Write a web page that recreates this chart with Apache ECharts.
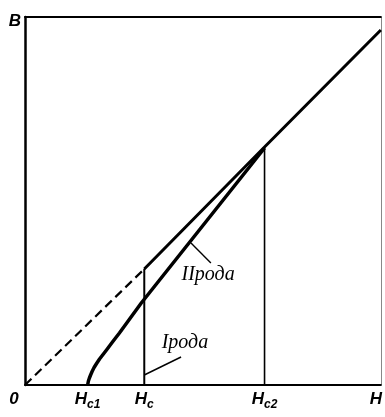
<!DOCTYPE html>
<html>
<head>
<meta charset="utf-8">
<script src="https://cdn.jsdelivr.net/npm/echarts@6/dist/echarts.min.js"></script>
<style>
  html, body { margin: 0; padding: 0; background: #fff; }
  #chart { width: 385px; height: 417px; }
</style>
</head>
<body>
<div id="chart"></div>
<script>
// B(H) magnetisation curves of type I and type II superconductors.
// Axis ranges (arbitrary units).
const hMax = 358;
const bMax = 368;

// Characteristic fields on the H axis and their labels.
const hTickValues = [0, 63, 120, 241, 353];
const hTickLabels = ['{z|0}', '{h|H}{s|c1}', '{h|H}{s|c}', '{h|H}{s|c2}', '{h|H}'];

// Normal-state line B = H (dashed below Hc, solid above).
const normalDashed = [[0, 0], [120, 116]];
const normalSolid = [[120, 116], [241, 238], [358, 355]];

// Type II curve: starts at Hc1, joins the normal line at Hc2.
const type2Curve = [
  [63, 0], [63.8, 4], [64.8, 7], [66, 10], [67.5, 13.5], [69.5, 17.5], [72, 21.5], [75, 26],
  [78.5, 30.5], [82, 35], [88, 43], [95, 52], [117, 82], [241, 237]
];

// Type I jump at Hc, and the Hc2 marker.
const hcLine = [[120, 0], [120, 116]];
const hc2Line = [[241, 0], [241, 237]];

// Leader lines for the curve captions.
const leader2 = [[167, 142], [187, 122]];
const leader1 = [[120, 10], [157, 28]];

// Caption anchors [H, B, text].
const captions = [[157, 110, 'IIрода'], [137, 42, 'Iрода']];

const chart = echarts.init(document.getElementById('chart'), null, { renderer: 'canvas' });

const blackLine = (data, width, type) => ({
  type: 'line',
  data: data,
  symbol: 'none',
  silent: true,
  lineStyle: { color: '#000', width: width, type: type || 'solid', cap: 'butt', join: 'round' },
  z: 3
});

const frameAxis = (extra, color, width) => Object.assign({
  type: 'value',
  splitLine: { show: false },
  axisTick: { show: false },
  axisLabel: { show: false },
  axisLine: { show: true, onZero: false, lineStyle: { color: color, width: width } }
}, extra);

const labelFont = { fontFamily: 'Liberation Sans', fontStyle: 'italic', fontWeight: 'bold', color: '#000' };

chart.setOption({
  animation: false,
  backgroundColor: '#fff',
  grid: { left: 25, right: 2, top: 17, bottom: 32 },
  xAxis: [
    {
      type: 'value', min: 0, max: hMax, position: 'bottom',
      splitLine: { show: false },
      axisTick: { show: false },
      axisLine: { show: true, onZero: false, lineStyle: { color: '#000', width: 2 } },
      axisLabel: {
        customValues: hTickValues,
        margin: 6,
        formatter: (v) => hTickLabels[hTickValues.indexOf(v)] || '',
        rich: {
          h: Object.assign({ fontSize: 17, fontWeight: 'normal', verticalAlign: 'top' }, labelFont, { fontWeight: 600 }),
          s: Object.assign({}, labelFont, { fontSize: 12, padding: [8, 0, 0, 0], verticalAlign: 'top' }),
          z: Object.assign({}, labelFont, { fontSize: 17, padding: [0, 22, 0, 0], verticalAlign: 'top' })
        }
      }
    },
    frameAxis({ min: 0, max: hMax, position: 'top' }, '#000', 2)
  ],
  yAxis: [
    {
      type: 'value', min: 0, max: bMax, position: 'left',
      splitLine: { show: false },
      axisTick: { show: false },
      axisLine: { show: true, onZero: false, lineStyle: { color: '#000', width: 2.5 } },
      axisLabel: Object.assign({
        customValues: [bMax],
        margin: 4,
        formatter: () => 'B',
        fontSize: 17,
        verticalAlign: 'top', padding: [-4, 0, 0, 0]
      }, labelFont)
    },
    frameAxis({ min: 0, max: bMax, position: 'right' }, '#888', 1)
  ],
  series: [
    blackLine(normalDashed, 2.2, [9, 5]),
    blackLine(normalSolid, 3),
    blackLine(type2Curve, 3.5),
    blackLine(hcLine, 2),
    blackLine(hc2Line, 1.6),
    blackLine(leader2, 1.4),
    blackLine(leader1, 1.4),
    {
      type: 'scatter',
      data: captions,
      symbolSize: 1,
      itemStyle: { opacity: 0 },
      silent: true,
      z: 4,
      label: {
        show: true,
        position: 'right',
        distance: 0,
        formatter: (p) => p.data[2],
        fontFamily: 'Liberation Serif', fontStyle: 'italic', fontSize: 20, color: '#000', opacity: 1
      }
    }
  ]
});
</script>
</body>
</html>
